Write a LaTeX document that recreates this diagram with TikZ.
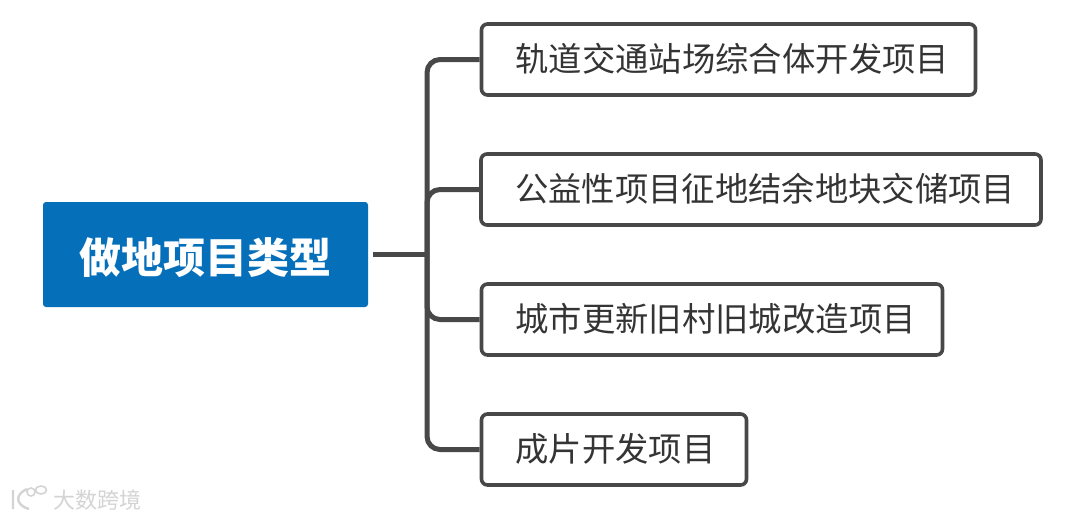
\documentclass[tikz,border=0pt]{standalone}
\usepackage{fontspec}
\newfontfamily\cjk{Noto Sans CJK SC}
\definecolor{rootblue}{RGB}{6,111,186}
\definecolor{linegray}{RGB}{72,72,72}
\definecolor{textgray}{RGB}{52,52,52}
\definecolor{wmgray}{RGB}{212,212,212}
\tikzset{
 rootbox/.style={fill=rootblue,rounded corners=3pt,inner sep=0,text=white,text height=40pt,text depth=2pt,font=\cjk\fontsize{42pt}{44pt}\selectfont\bfseries},
 itembox/.style={draw=linegray,line width=3.6pt,rounded corners=6pt,fill=white,inner sep=0,align=left,minimum height=71pt,font=\cjk\fontsize{33.35pt}{36pt}\selectfont,text=textgray},
 link/.style={draw=linegray,line width=5pt,rounded corners=13pt},
 wm/.style={text=wmgray,font=\cjk\fontsize{22pt}{24pt}\selectfont},
 wmline/.style={draw=wmgray,line width=2.4pt}
}
\newcommand{\itemtext}[1]{\hspace*{34pt}\smash{\raisebox{-4.6pt}{#1}}\rule[-10.3pt]{0pt}{36pt}}
\begin{document}
\begin{tikzpicture}[x=1pt,y=-1pt]
\useasboundingbox (0,0) rectangle (1080,520);
\fill[white] (0,0) rectangle (1080,520);
\node[rootbox,minimum width=325pt,minimum height=105pt] (root) at (205.5,254.5) {做地项目类型};
\node[itembox,text width=494pt] (a) at (728.5,59.5) {\itemtext{轨道交通站场综合体开发项目}};
\node[itembox,text width=560pt] (b) at (761,189.5) {\itemtext{公益性项目征地结余地块交储项目}};
\node[itembox,text width=461pt] (c) at (712,319.5) {\itemtext{城市更新旧村旧城改造项目}};
\node[itembox,text width=265pt] (d) at (614,449.5) {\itemtext{成片开发项目}};
\coordinate (j) at (427,254.5);
\coordinate (rs) at (373,254.5);
\draw[link,rounded corners=0] (rs) -- (j);
\draw[link] (a.west) -- (j |- a.west) -- (j |- d.west) -- (d.west);
\draw[link] (j) -- (j |- b.west) -- (b.west);
\draw[link] (j) -- (j |- c.west) -- (c.west);
\node[wm] (w) at (97,500) {大数跨境};
\draw[wmline] (13,490) -- (13,509) (27,489) .. controls (15,494) and (15,505) .. (29,509);
\draw[wmline,line width=1.6pt] (31,492) circle (4pt) (41,490) ellipse (5.5pt and 4pt);
\end{tikzpicture}
\end{document}
